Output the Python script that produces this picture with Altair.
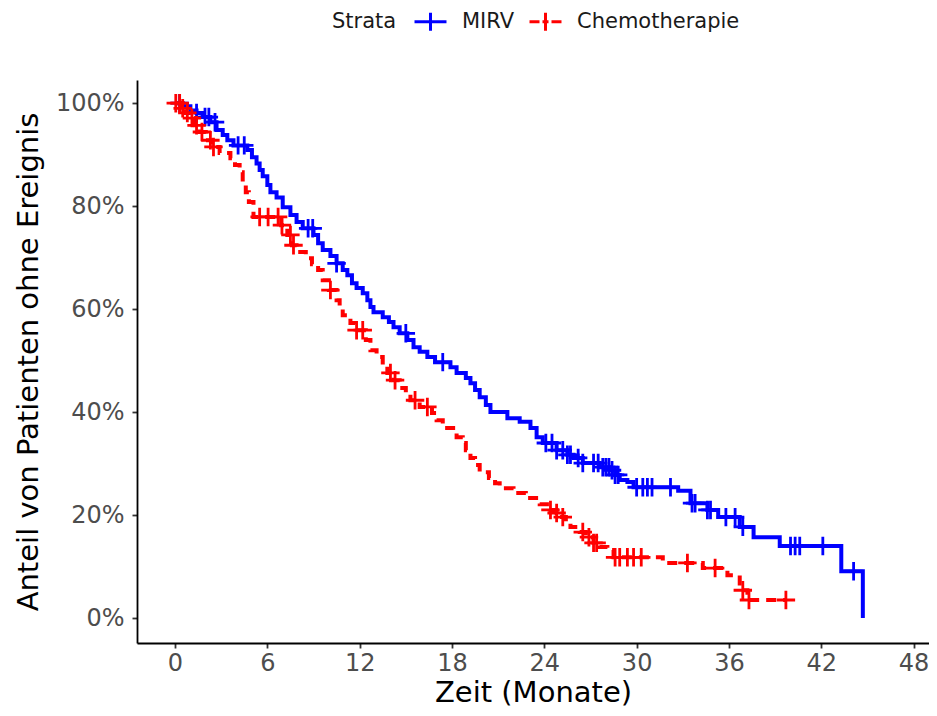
import altair as alt
import pandas as pd
import numpy as np

groups = ["MIRV", "Chemotherapie"]
colors = ["#0000FF", "#FF0000"]

# Kaplan-Meier step points (time in months, survival proportion)
mirv_t = [0, 0.5, 1.0, 1.4, 1.8, 2.3, 2.7, 3.1, 3.4, 3.8, 4.7, 5.0, 5.3, 5.5, 5.7, 6.0, 6.2, 6.6,
          7.0, 7.5, 7.9, 8.3, 9.0, 9.3, 9.6, 10.1, 10.5, 10.9, 11.2, 11.5, 11.8, 12.2, 12.5, 12.7,
          12.9, 13.5, 13.9, 14.2, 14.6, 15.1, 15.5, 15.9, 16.4, 16.9, 17.9, 18.3, 18.9, 19.2, 19.5,
          19.8, 20.2, 20.5, 21.6, 22.4, 23.1, 23.5, 23.9, 24.8, 25.5, 25.9, 26.5, 27.6, 28.3, 28.6,
          28.9, 29.4, 29.8, 32.7, 33.5, 34.6, 35.3, 36.7, 37.6, 39.3, 43.3, 44.7]
mirv_s = [1.0, 0.994, 0.986, 0.981, 0.973, 0.963, 0.948, 0.938, 0.928, 0.918, 0.909, 0.895, 0.883,
          0.870, 0.858, 0.841, 0.827, 0.817, 0.798, 0.783, 0.769, 0.757, 0.744, 0.728, 0.715, 0.703,
          0.689, 0.676, 0.666, 0.650, 0.641, 0.631, 0.617, 0.604, 0.594, 0.584, 0.575, 0.565, 0.553,
          0.540, 0.526, 0.517, 0.507, 0.497, 0.487, 0.476, 0.466, 0.456, 0.443, 0.429, 0.414, 0.400,
          0.388, 0.381, 0.369, 0.351, 0.340, 0.326, 0.317, 0.311, 0.301, 0.293, 0.287, 0.278, 0.268,
          0.264, 0.254, 0.247, 0.223, 0.210, 0.196, 0.177, 0.157, 0.140, 0.091, 0.0]

chemo_t = [0, 0.4, 0.7, 1.0, 1.3, 1.6, 2.0, 2.4, 2.9, 3.6, 3.9, 4.2, 4.4, 4.6, 4.8, 5.1, 6.9, 7.3,
           7.6, 7.9, 8.5, 8.9, 9.3, 9.6, 10.0, 10.5, 10.7, 10.9, 11.4, 11.7, 12.4, 12.7, 13.1, 13.5,
           13.8, 14.2, 14.6, 15.0, 15.3, 15.9, 16.7, 17.0, 17.4, 18.3, 18.7, 18.9, 19.2, 19.5, 19.8,
           20.4, 20.8, 21.1, 22.0, 22.8, 23.7, 24.4, 24.8, 25.0, 25.4, 25.7, 26.3, 26.7, 27.2, 27.6,
           28.1, 28.5, 31.7, 34.3, 35.9, 36.7, 37.2, 39.7]
chemo_s = [1.0, 0.99, 0.981, 0.971, 0.957, 0.944, 0.928, 0.915, 0.903, 0.893, 0.880, 0.866, 0.845,
           0.827, 0.808, 0.779, 0.763, 0.744, 0.724, 0.711, 0.699, 0.687, 0.676, 0.656, 0.637, 0.617,
           0.602, 0.588, 0.573, 0.559, 0.540, 0.520, 0.507, 0.491, 0.476, 0.462, 0.447, 0.437, 0.423,
           0.410, 0.398, 0.384, 0.369, 0.351, 0.340, 0.326, 0.311, 0.297, 0.283, 0.272, 0.262, 0.252,
           0.243, 0.233, 0.221, 0.210, 0.204, 0.196, 0.186, 0.177, 0.167, 0.157, 0.146, 0.138, 0.132,
           0.118, 0.107, 0.097, 0.083, 0.054, 0.035, 0.035]

# Censoring times
mirv_cens = [0.3, 1.4, 1.95, 2.2, 2.6, 4.1, 4.5, 8.65, 8.95, 10.5, 15.0, 17.4,
             24.1, 24.5, 24.8, 25.2, 25.5, 25.7, 26.2, 26.5, 27.2, 27.5, 27.8, 28.0, 28.2,
             28.4, 28.6, 28.8, 30.0, 30.4, 30.7, 31.0, 32.2, 33.6, 33.8, 34.6, 34.8, 35.8,
             36.4, 36.9, 40.0, 40.3, 40.6, 42.1, 44.1]
chemo_cens = [0.05, 0.3, 0.5, 0.8, 1.1, 1.4, 1.75, 2.3, 2.5, 5.5, 6.05, 6.7, 6.95, 7.5, 7.7,
              10.1, 11.8, 12.2, 14.0, 14.3, 15.6, 16.4, 24.4, 24.8, 25.2, 26.5, 26.9, 27.2,
              27.4, 28.6, 28.9, 29.4, 29.8, 30.3, 33.3, 35.1, 36.9, 37.3, 39.7]

x_ticks = [0, 6, 12, 18, 24, 30, 36, 42, 48]
y_ticks = [0, 0.2, 0.4, 0.6, 0.8, 1.0]


def surv_at(ts, ss, c):
    i = np.searchsorted(np.array(ts), c, side="right") - 1
    return ss[max(i, 0)]


steps = pd.concat([
    pd.DataFrame({"Strata": "MIRV", "time": mirv_t, "surv": mirv_s, "o": range(len(mirv_t))}),
    pd.DataFrame({"Strata": "Chemotherapie", "time": chemo_t, "surv": chemo_s, "o": range(len(chemo_t))}),
])
cens = pd.concat([
    pd.DataFrame({"Strata": "MIRV", "time": mirv_cens,
                  "surv": [surv_at(mirv_t, mirv_s, c) for c in mirv_cens]}),
    pd.DataFrame({"Strata": "Chemotherapie", "time": chemo_cens,
                  "surv": [surv_at(chemo_t, chemo_s, c) for c in chemo_cens]}),
])

font = "DejaVu Sans"
xscale = alt.Scale(domain=[-2.47, 49.0], nice=False, zero=False)
yscale = alt.Scale(domain=[-0.0485, 1.045], nice=False, zero=False)
cscale = alt.Scale(domain=groups, range=colors)
dscale = alt.Scale(domain=groups, range=[[1, 0], [10, 7]])

xaxis = alt.Axis(values=x_ticks, title="Zeit (Monate)", grid=False, labelPadding=3, titlePadding=3)
yaxis = alt.Axis(values=y_ticks, format=".0%", title="Anteil von Patienten ohne Ereignis",
                 grid=False, titlePadding=12, labelPadding=8)

plus_path = "M-1,0L1,0M0,-1L0,1"
legend_path = ("M-1.333,0L-0.1667,0M1.333,0L0.1667,0M-0.25,0L0.25,0"
               "M0,0L0,-0.75M0,0L0,0.75")

legend = alt.Legend(
    title="Strata", orient="none", direction="horizontal", titleOrient="left",
    legendX=195, legendY=-72, symbolType=legend_path, symbolSize=576,
    symbolStrokeWidth=3, labelFontSize=21, titleFontSize=21, labelFont=font,
    titleFont=font, titleFontWeight="normal", titleColor="#1a1a1a", labelColor="#1a1a1a",
    titlePadding=20, labelOffset=18, columnPadding=8, symbolOffset=0, padding=0,
    labelLimit=400,
)

lines = alt.Chart(steps).mark_line(interpolate="step-after", strokeWidth=4).encode(
    x=alt.X("time:Q", scale=xscale, axis=xaxis),
    y=alt.Y("surv:Q", scale=yscale, axis=yaxis),
    color=alt.Color("Strata:N", scale=cscale, legend=legend),
    strokeDash=alt.StrokeDash("Strata:N", scale=dscale, legend=legend),
    order="o:Q",
    detail="Strata:N",
)

points = alt.Chart(cens).mark_point(shape=plus_path, size=340, filled=False, strokeWidth=2.8,
                                    opacity=1).encode(
    x=alt.X("time:Q", scale=xscale),
    y=alt.Y("surv:Q", scale=yscale),
    color=alt.Color("Strata:N", scale=cscale, legend=None),
)

chart = alt.layer(lines, points).properties(
    width=792, height=563,
    autosize=alt.AutoSizeParams(type="none"),
    padding={"left": 129, "top": 72, "right": 0, "bottom": 65},
).configure_view(stroke=None).configure_axis(
    labelFont=font, titleFont=font, labelFontSize=24, titleFontSize=29,
    labelColor="#4d4d4d", titleColor="#000000", titleFontWeight="normal",
    domainColor="#000000", domainWidth=1.8, tickColor="#333333", tickWidth=1.8, tickSize=5,
)

chart.save("out.html", embed_options={"renderer": "svg", "actions": False})
